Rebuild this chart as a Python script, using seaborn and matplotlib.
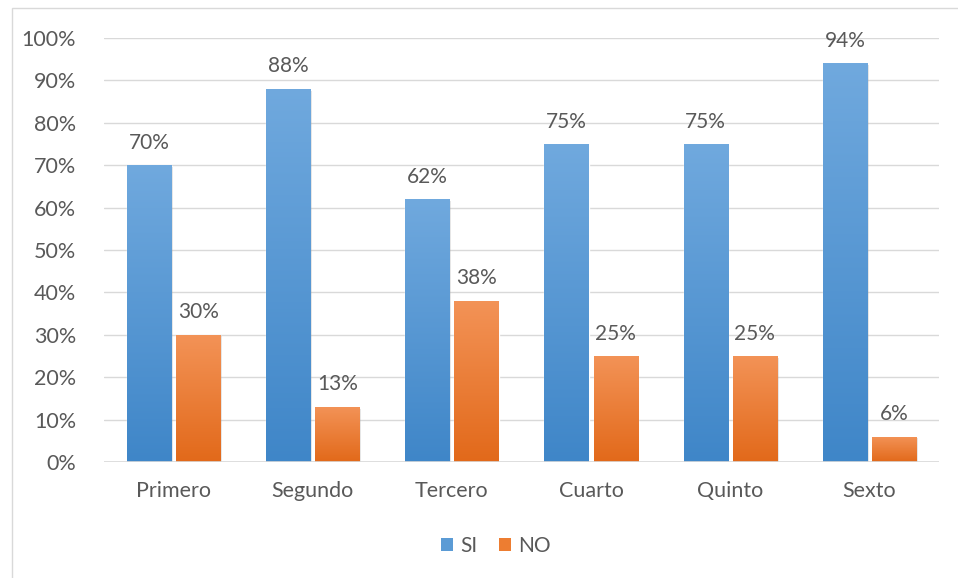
import numpy as np
import pandas as pd
import matplotlib
matplotlib.use("Agg")
import matplotlib.pyplot as plt
import seaborn as sns
from matplotlib.colors import LinearSegmentedColormap
from matplotlib.patches import Rectangle, Patch

# datos
grados = ["Primero", "Segundo", "Tercero", "Cuarto", "Quinto", "Sexto"]
si = [70, 88, 62, 75, 75, 94]
no = [30, 13, 38, 25, 25, 6]
series = ["SI", "NO"]

df = pd.DataFrame({"grado": grados * 2,
                   "respuesta": ["SI"] * 6 + ["NO"] * 6,
                   "valor": si + no})

sns.set_theme(style="white")
plt.rcParams["font.family"] = ["Lato", "DejaVu Sans"]
txt = "#595959"

fig = plt.figure(figsize=(9.58, 5.78), dpi=100)
ax = fig.add_axes([104 / 958, 1 - 462 / 578, 835 / 958, 424 / 578])

# marco del gráfico
fig.patches.append(Rectangle((12 / 958, -0.05), 1.1, 1 - 8 / 578 + 0.05,
                             transform=fig.transFigure, fill=False,
                             edgecolor="#D9D9D9", linewidth=1.0))

base = {"SI": "#5B9BD5", "NO": "#ED7D31"}
sns.barplot(data=df, x="grado", y="valor", hue="respuesta", order=grados,
            hue_order=series, palette=base, width=0.705, gap=0.1,
            legend=False, ax=ax, zorder=3)

# degradado tipo Excel
grad = {"SI": ("#3F86C8", "#70A9DE"), "NO": ("#E2691A", "#F39357")}
for cont, name in zip(ax.containers, series):
    cmap = LinearSegmentedColormap.from_list(name, grad[name])
    for bar, v in zip(cont, df[df.respuesta == name]["valor"]):
        x0, y0 = bar.get_x(), bar.get_y()
        w, h = bar.get_width(), bar.get_height()
        # sombra suave
        ax.add_patch(Rectangle((x0 + 0.012, y0), w, h - 0.4, facecolor="#000000",
                               alpha=0.12, linewidth=0, zorder=2.5))
        img = ax.imshow(np.linspace(0, 1, 256).reshape(-1, 1), cmap=cmap,
                        aspect="auto", extent=[x0, x0 + w, y0, y0 + h],
                        origin="lower", zorder=3.2)
        img.set_clip_path(bar)
        ax.annotate(f"{v}%", (x0 + w / 2, y0 + h), xytext=(0, 9),
                    textcoords="offset points", ha="center", va="bottom",
                    fontsize=15, color=txt, zorder=5)

ax.set_xlim(-0.5, 5.5)
ax.set_ylim(0, 100)
ax.set_yticks(range(0, 101, 10))
ax.set_yticklabels([f"{t}%" for t in range(0, 101, 10)])
ax.grid(axis="y", color="#D9D9D9", linewidth=1.0, zorder=0)
ax.set_axisbelow(True)
for s in ax.spines.values():
    s.set_visible(False)
ax.axhline(0, color="#D9D9D9", linewidth=1.2, zorder=4)
ax.set_xlabel("")
ax.set_ylabel("")
ax.tick_params(axis="both", length=0, labelsize=15.5, labelcolor=txt)
ax.tick_params(axis="x", pad=14)
ax.tick_params(axis="y", pad=20)

handles = [Patch(facecolor=base[s], edgecolor="none", label=s) for s in series]
fig.legend(handles=handles, loc="center", bbox_to_anchor=(496 / 958, 1 - 546 / 578),
           ncol=2, frameon=False, fontsize=15, labelcolor=txt,
           handlelength=0.6, handleheight=0.6, handletextpad=0.35, columnspacing=1.0)

fig.savefig("out.png", dpi=100)
